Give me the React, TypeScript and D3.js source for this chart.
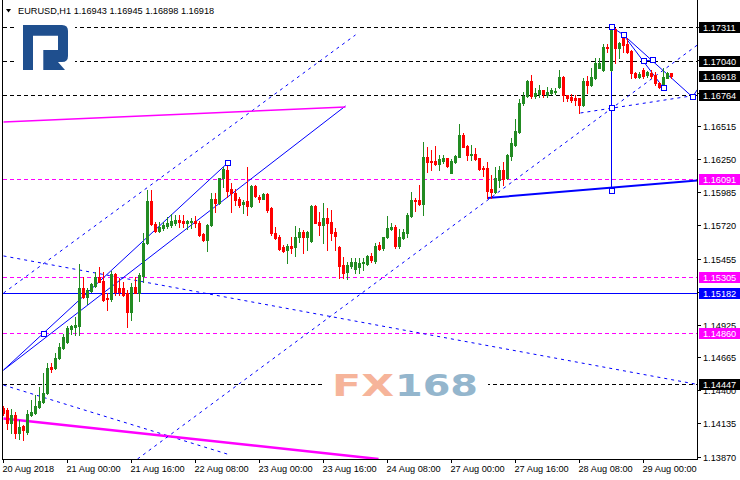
import React from 'react';
import * as d3 from 'd3';

const W = 740;
const H = 480;

const headerText = 'EURUSD,H1  1.16943 1.16945 1.16898 1.16918';

const opens = [
  1.14258,1.14242,1.14138,1.14202,1.14058,1.14114,1.14066,1.14202,1.14218,1.14266,
  1.14306,1.14378,1.14586,1.14578,1.14658,1.14739,1.14787,1.14891,1.14907,1.14915,
  1.15219,1.15147,1.15195,1.15235,1.15307,1.15275,1.15139,1.15131,1.15331,1.15219,
  1.15219,1.15179,1.15027,1.15227,1.15179,1.15315,1.15580,1.15916,1.15732,1.15676,
  1.15700,1.15716,1.15724,1.15740,1.15764,1.15756,1.15740,1.15748,1.15756,1.15740,
  1.15652,1.15604,1.15724,1.15932,1.15900,1.16100,1.16164,1.16012,1.15980,1.15932,
  1.15892,1.15916,1.15876,1.16036,1.15948,1.15932,1.15972,1.15860,1.15660,1.15628,
  1.15548,1.15524,1.15556,1.15548,1.15628,1.15668,1.15628,1.15596,1.15876,1.15748,
  1.15724,1.15780,1.15748,1.15668,1.15548,1.15403,1.15347,1.15395,1.15371,1.15387,
  1.15419,1.15411,1.15476,1.15435,1.15564,1.15540,1.15628,1.15692,1.15708,1.15556,
  1.15620,1.15660,1.15796,1.15924,1.15924,1.15892,1.16268,1.16236,1.16236,1.16212,
  1.16236,1.16260,1.16140,1.16228,1.16268,1.16445,1.16357,1.16284,1.16292,1.16260,
  1.16180,1.16180,1.16012,1.15988,1.16084,1.16164,1.16100,1.16276,1.16365,1.16469,
  1.16701,1.16757,1.16877,1.16757,1.16773,1.16805,1.16765,1.16781,1.16789,1.16829,
  1.16909,1.16765,1.16749,1.16741,1.16741,1.16685,1.16877,1.16845,1.16901,1.16981,
  1.16965,1.17150,1.16965,1.17290,1.17142,1.17222,1.17174,1.17118,1.16941,1.16909,
  1.16965,1.16925,1.16941,1.16925,1.16861,1.16829,1.16901,1.16943,
];

const highs = [
  1.14274,1.14258,1.14250,1.14226,1.14162,1.14122,1.14242,1.14322,1.14362,1.14426,
  1.14538,1.14618,1.14618,1.14698,1.14779,1.14851,1.14915,1.14923,1.14987,1.15411,
  1.15307,1.15219,1.15259,1.15347,1.15387,1.15347,1.15179,1.15355,1.15339,1.15299,
  1.15267,1.15203,1.15259,1.15307,1.15339,1.15660,1.16004,1.16004,1.15748,1.15748,
  1.15748,1.15788,1.15812,1.15804,1.15804,1.15804,1.15764,1.15780,1.15796,1.15756,
  1.15660,1.15732,1.15980,1.15980,1.16100,1.16188,1.16220,1.16060,1.16012,1.15948,
  1.15924,1.16188,1.16044,1.16044,1.15964,1.15980,1.15980,1.15868,1.15708,1.15644,
  1.15564,1.15572,1.15628,1.15716,1.15700,1.15684,1.15676,1.15884,1.15884,1.15828,
  1.15900,1.15860,1.15844,1.15700,1.15556,1.15468,1.15427,1.15460,1.15460,1.15460,
  1.15460,1.15484,1.15500,1.15580,1.15588,1.15628,1.15796,1.15740,1.15724,1.15692,
  1.15692,1.15820,1.15988,1.15940,1.16044,1.16389,1.16349,1.16325,1.16357,1.16284,
  1.16284,1.16260,1.16252,1.16284,1.16533,1.16461,1.16365,1.16365,1.16341,1.16260,
  1.16196,1.16228,1.16124,1.16188,1.16196,1.16228,1.16292,1.16421,1.16573,1.16733,
  1.16789,1.16885,1.16925,1.16821,1.16845,1.16805,1.16829,1.16821,1.16821,1.16965,
  1.16917,1.16765,1.16773,1.16765,1.16741,1.16901,1.16917,1.16981,1.17061,1.17061,
  1.17174,1.17174,1.17311,1.17300,1.17190,1.17254,1.17222,1.17126,1.16949,1.16949,
  1.16981,1.16957,1.16965,1.16949,1.16869,1.16981,1.16949,1.16945,
];

const lows = [
  1.14202,1.14090,1.14058,1.14018,1.14010,1.14002,1.14050,1.14194,1.14210,1.14258,
  1.14298,1.14370,1.14546,1.14570,1.14650,1.14731,1.14779,1.14851,1.14843,1.14843,
  1.15139,1.15091,1.15187,1.15227,1.15267,1.15115,1.15043,1.15115,1.15163,1.15163,
  1.15155,1.14907,1.14963,1.15179,1.15115,1.15267,1.15572,1.15724,1.15668,1.15668,
  1.15684,1.15700,1.15708,1.15724,1.15708,1.15708,1.15692,1.15700,1.15708,1.15636,
  1.15596,1.15516,1.15716,1.15828,1.15892,1.16028,1.15948,1.15828,1.15884,1.15868,
  1.15820,1.15804,1.15868,1.15948,1.15908,1.15932,1.15828,1.15644,1.15612,1.15524,
  1.15508,1.15419,1.15500,1.15476,1.15588,1.15500,1.15524,1.15588,1.15740,1.15644,
  1.15580,1.15524,1.15604,1.15524,1.15299,1.15299,1.15291,1.15379,1.15339,1.15339,
  1.15363,1.15403,1.15427,1.15419,1.15524,1.15524,1.15620,1.15684,1.15540,1.15540,
  1.15612,1.15628,1.15788,1.15836,1.15884,1.15804,1.16148,1.16164,1.16204,1.16164,
  1.16220,1.16188,1.16140,1.16220,1.16268,1.16349,1.16244,1.16244,1.16244,1.16164,
  1.16116,1.15940,1.15940,1.15980,1.16028,1.16044,1.16092,1.16244,1.16357,1.16461,
  1.16685,1.16749,1.16741,1.16741,1.16749,1.16749,1.16749,1.16773,1.16773,1.16821,
  1.16717,1.16717,1.16709,1.16685,1.16621,1.16677,1.16781,1.16837,1.16893,1.16981,
  1.16957,1.17109,1.16957,1.17021,1.17061,1.17109,1.17101,1.16901,1.16901,1.16901,
  1.16901,1.16909,1.16901,1.16845,1.16821,1.16829,1.16901,1.16898,
];

const closes = [
  1.14218,1.14138,1.14202,1.14058,1.14106,1.14082,1.14210,1.14226,1.14274,1.14314,
  1.14378,1.14578,1.14570,1.14658,1.14747,1.14827,1.14899,1.14915,1.14923,1.15219,
  1.15147,1.15203,1.15251,1.15307,1.15267,1.15123,1.15131,1.15331,1.15187,1.15187,
  1.15163,1.15027,1.15227,1.15179,1.15323,1.15580,1.15916,1.15732,1.15676,1.15708,
  1.15724,1.15740,1.15756,1.15764,1.15748,1.15740,1.15756,1.15756,1.15740,1.15644,
  1.15604,1.15724,1.15932,1.15900,1.16100,1.16172,1.15996,1.15980,1.15924,1.15884,
  1.15908,1.15876,1.16036,1.15956,1.15932,1.15972,1.15844,1.15660,1.15620,1.15532,
  1.15516,1.15556,1.15540,1.15628,1.15668,1.15628,1.15668,1.15876,1.15740,1.15724,
  1.15780,1.15740,1.15660,1.15636,1.15395,1.15339,1.15403,1.15427,1.15427,1.15419,
  1.15427,1.15476,1.15443,1.15556,1.15532,1.15628,1.15700,1.15708,1.15556,1.15628,
  1.15668,1.15804,1.15924,1.15916,1.15892,1.16268,1.16228,1.16228,1.16212,1.16252,
  1.16260,1.16196,1.16236,1.16276,1.16445,1.16349,1.16284,1.16292,1.16252,1.16172,
  1.16172,1.15996,1.15988,1.16100,1.16164,1.16092,1.16284,1.16381,1.16477,1.16701,
  1.16757,1.16877,1.16757,1.16781,1.16805,1.16773,1.16789,1.16805,1.16797,1.16909,
  1.16765,1.16741,1.16725,1.16725,1.16685,1.16877,1.16845,1.16909,1.17021,1.17021,
  1.17150,1.17142,1.17290,1.17142,1.17182,1.17166,1.17109,1.16941,1.16909,1.16933,
  1.16917,1.16949,1.16917,1.16861,1.16829,1.16909,1.16941,1.16918,
];

const timeLabels = [
  '20 Aug 2018', '21 Aug 00:00', '21 Aug 16:00', '22 Aug 08:00', '23 Aug 00:00',
  '23 Aug 16:00', '24 Aug 08:00', '27 Aug 00:00', '27 Aug 16:00', '28 Aug 08:00', '29 Aug 00:00',
];
const timeLabelBars = [0, 16, 32, 48, 64, 80, 96, 112, 128, 144, 160];

const priceTicks = [
  1.13870, 1.14135, 1.14400, 1.14665, 1.14925, 1.15190, 1.15455,
  1.15720, 1.15985, 1.16250, 1.16515, 1.16780, 1.17045, 1.17310,
];

const levelPrices = [1.17311, 1.17040, 1.16764, 1.16091, 1.15305, 1.15182, 1.14860, 1.14447];
const levelKinds = ['black', 'black', 'black', 'magenta', 'magenta', 'blue', 'magenta', 'black'];
const currentPrice = 1.16918;

// trend objects anchored in (bar index, price)
const trendLines = [
  { a: [0, 1.14562], b: [56, 1.16220], kind: 'blue' },
  { a: [0, 1.14562], b: [85.5, 1.16677], kind: 'blue' },
  { a: [0, 1.15179], b: [88, 1.17246], kind: 'blueDash' },
  { a: [0, 1.15476], b: [173.5, 1.14447], kind: 'blueDash' },
  { a: [0, 1.14442], b: [56, 1.13889], kind: 'blueDash' },
  { a: [0, 1.16549], b: [85.5, 1.16669], kind: 'magenta' },
  { a: [0, 1.14174], b: [93.75, 1.13850], kind: 'magentaThick' },
  { a: [33.5, 1.13850], b: [173.5, 1.17166], kind: 'blueDash' },
  { a: [121, 1.15940], b: [173.5, 1.16080], kind: 'blueThick' },
  { a: [144.25, 1.16621], b: [173.5, 1.16765], kind: 'blueDash' },
  { a: [152, 1.17311], b: [152, 1.15996], kind: 'blue' },
  { a: [152, 1.17311], b: [155, 1.17246], kind: 'blue' },
  { a: [155, 1.17246], b: [172.25, 1.16749], kind: 'blue' },
  { a: [155, 1.17246], b: [165, 1.16821], kind: 'blue' },
  { a: [160, 1.17037], b: [162.25, 1.17045], kind: 'blue' },
  { a: [172.25, 1.16749], b: [173.5, 1.16810], kind: 'blue' },
];

const anchorPoints = [
  [10, 1.14851], [56, 1.16220], [152, 1.17311], [152, 1.16661], [152, 1.15996],
  [155, 1.17246], [160, 1.17037], [162.25, 1.17045], [165, 1.16821], [172.25, 1.16749],
];

const COLORS: Record<string, string> = {
  black: '#000000',
  magenta: '#ff00ff',
  blue: '#0000ff',
};
const TREND_STYLE: Record<string, { stroke: string; width: number; dash?: string }> = {
  blue: { stroke: '#0000ff', width: 1 },
  blueThick: { stroke: '#0000ff', width: 2 },
  blueDash: { stroke: '#0000ff', width: 1, dash: '3,4' },
  magenta: { stroke: '#ff00ff', width: 1.5 },
  magentaThick: { stroke: '#ff00ff', width: 2.5 },
};

const UP = '#228b22';
const DOWN = '#ff0000';
const FONT = '"Liberation Sans", Arial, sans-serif';

export default function App() {
  const plotLeft = 3;
  const plotRight = 697;
  const plotBottom = 459;

  const x = d3.scaleLinear().domain([0, 1]).range([3, 7]);
  const y = d3.scaleLinear().domain([1.1387, 1.17311]).range([456.5, 26.8]);
  const py = (p: number) => Math.round(y(p));

  const labelled = [...levelPrices, currentPrice];
  // ticks whose text would sit entirely behind a level label are hidden, as in the terminal
  const visibleTicks = priceTicks.filter(
    (t) => !labelled.some((l) => Math.abs(y(t) - y(l)) < 4)
  );

  return (
    <svg
      width={W}
      height={H}
      style={{ position: 'absolute', left: 0, top: 0, background: '#fff' }}
      fontFamily={FONT}
    >
      <defs>
        <clipPath id="plot">
          <rect x={plotLeft} y={0} width={plotRight - plotLeft} height={plotBottom} />
        </clipPath>
      </defs>
      <rect x={0} y={0} width={W} height={H} fill="#fff" />

      <g clipPath="url(#plot)">
        {levelPrices.map((p, i) => (
          <line
            key={'lv' + i}
            x1={plotLeft}
            x2={plotRight}
            y1={py(p) + 0.5}
            y2={py(p) + 0.5}
            stroke={COLORS[levelKinds[i]]}
            strokeWidth={levelKinds[i] === 'blue' ? 1.5 : 1}
            strokeDasharray={levelKinds[i] === 'blue' ? undefined : '4,3'}
            shapeRendering="crispEdges"
          />
        ))}

        {trendLines.map((t, i) => {
          const s = TREND_STYLE[t.kind];
          return (
            <line
              key={'tl' + i}
              x1={x(t.a[0]) + 0.5}
              y1={y(t.a[1])}
              x2={x(t.b[0]) + 0.5}
              y2={y(t.b[1])}
              stroke={s.stroke}
              strokeWidth={s.width}
              strokeDasharray={s.dash}
            />
          );
        })}

        {opens.map((o, i) => {
          const c = closes[i];
          const col = c >= o ? UP : DOWN;
          const cx = x(i);
          const top = py(Math.max(o, c));
          const bot = py(Math.min(o, c));
          return (
            <g key={'c' + i} shapeRendering="crispEdges">
              <line
                x1={cx + 0.5}
                x2={cx + 0.5}
                y1={py(highs[i])}
                y2={py(lows[i]) + 1}
                stroke={col}
                strokeWidth={1}
              />
              <rect x={cx - 1} y={top} width={3} height={Math.max(1, bot - top + 1)} fill={col} />
            </g>
          );
        })}

        {anchorPoints.map((pt, i) => (
          <rect
            key={'sq' + i}
            x={Math.round(x(pt[0])) - 2}
            y={py(pt[1]) - 2.5}
            width={5}
            height={5}
            fill="#fff"
            stroke="#0000ff"
            strokeWidth={1}
            shapeRendering="crispEdges"
          />
        ))}

        <rect x={15} y={22} width={60} height={54} fill="#fff" />
        <path
          d="M23,25 H62 Q68,25 68,31 V56 Q68,62 62,62 H58 L65,70 H43.3 V50 H58 V35.7 H33 V70 H23 Z"
          fill="#1f4f8e"
        />

        <rect x={322} y={366} width={166} height={36} fill="#fff" />
        <text
          x={332}
          y={396}
          fontFamily='"DejaVu Sans", sans-serif'
          fontWeight="bold"
          fontSize={31}
          fill="#f6b49a"
          textLength={62}
          lengthAdjust="spacingAndGlyphs"
        >
          FX
        </text>
        <text
          x={395}
          y={396}
          fontFamily='"DejaVu Sans", sans-serif'
          fontWeight="bold"
          fontSize={31}
          fill="#94b6cd"
          textLength={83}
          lengthAdjust="spacingAndGlyphs"
        >
          168
        </text>
      </g>

      <g shapeRendering="crispEdges" stroke="#000">
        <line x1={2.5} x2={2.5} y1={0} y2={plotBottom + 0.5} />
        <line x1={plotRight + 0.5} x2={plotRight + 0.5} y1={0} y2={plotBottom + 0.5} />
        <line x1={2} x2={plotRight + 1} y1={plotBottom + 0.5} y2={plotBottom + 0.5} />
      </g>

      <path d="M6,9 L11,9 L8.5,12.5 Z" fill="#000" />
      <text x={18} y={14} fontSize={9.2} fill="#000">
        {headerText}
      </text>

      {priceTicks.map((p, i) => (
        <line
          key={'ptm' + i}
          x1={plotRight}
          x2={plotRight + 4}
          y1={py(p) + 0.5}
          y2={py(p) + 0.5}
          stroke="#000"
          shapeRendering="crispEdges"
        />
      ))}
      {visibleTicks.map((p, i) => (
        <text key={'pt' + i} x={703} y={py(p) + 3.5} fontSize={9.2} fill="#000">
          {p.toFixed(5)}
        </text>
      ))}

      {[...levelPrices.map((p, i) => ({ p, k: levelKinds[i] })), { p: currentPrice, k: 'black' }].map((d, i) => (
        <g key={'ll' + i}>
          <rect x={699} y={py(d.p) - 5} width={41} height={11} fill={COLORS[d.k]} shapeRendering="crispEdges" />
          <text x={703} y={py(d.p) + 4} fontSize={9.2} fill="#fff">
            {d.p.toFixed(5)}
          </text>
        </g>
      ))}

      {timeLabelBars.map((b, i) => (
        <g key={'tx' + i}>
          <line
            x1={x(b) + 0.5}
            x2={x(b) + 0.5}
            y1={plotBottom}
            y2={plotBottom + 4}
            stroke="#000"
            shapeRendering="crispEdges"
          />
          <text x={x(b) - 0.5} y={472} fontSize={9.2} fill="#000">
            {timeLabels[i]}
          </text>
        </g>
      ))}
    </svg>
  );
}
